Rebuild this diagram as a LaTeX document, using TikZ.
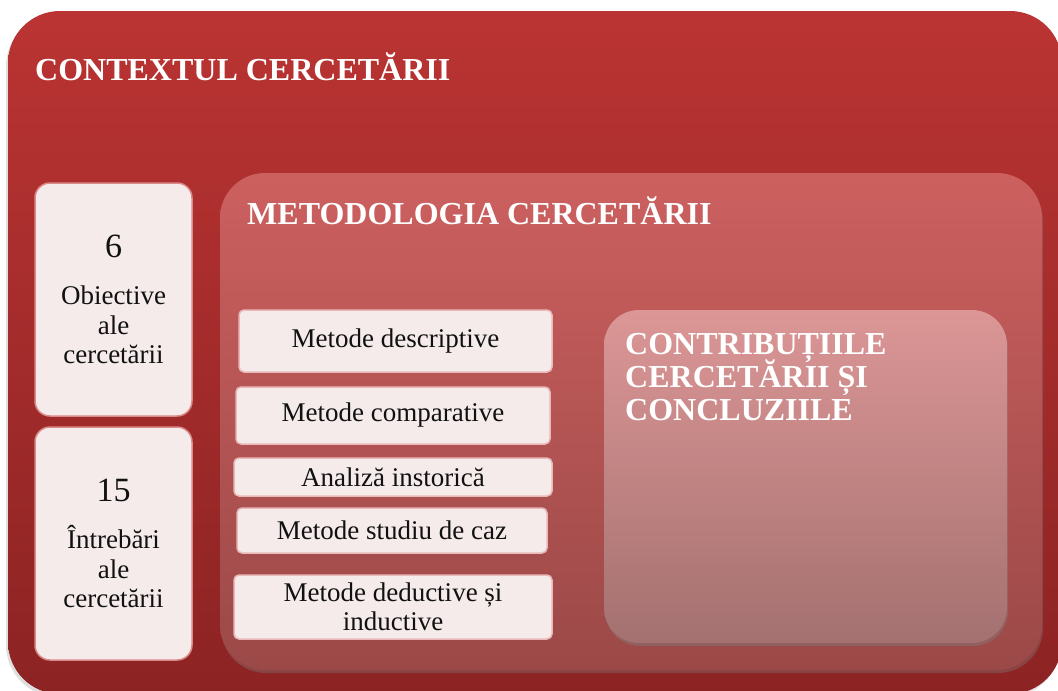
\documentclass[tikz,border=0pt]{standalone}
\usepackage{fontspec}
\setmainfont{Liberation Serif}
\usepackage{xcolor}
\usepackage{tikz}
\usetikzlibrary{shadows}
\definecolor{ctxtop}{HTML}{BA3433}
\definecolor{ctxbot}{HTML}{8C2323}
\definecolor{mettop}{HTML}{CC605F}
\definecolor{metbot}{HTML}{9B4948}
\definecolor{contop}{HTML}{DC9696}
\definecolor{conbot}{HTML}{A47170}
\definecolor{card}{HTML}{F5EBEB}
\definecolor{cardline}{HTML}{D98A89}
\definecolor{ink}{HTML}{111111}
\newcommand{\bignum}[1]{{\fontsize{34}{34}\selectfont #1}}
\newcommand{\titlefont}{\bfseries\fontsize{32}{33}\selectfont\setlength{\lineskiplimit}{-20pt}}
\tikzset{
  title/.style={text=white, inner sep=0pt, font=\titlefont},
  countbox/.style={draw=cardline, line width=1.5pt, fill=card, rounded corners=15pt,
    minimum width=157pt, minimum height=233pt, align=center, text=ink, inner sep=0pt,
    font=\fontsize{27}{29.5}\selectfont},
  methodbox/.style={draw=cardline!60!white, line width=1.5pt, fill=card, rounded corners=5pt,
    align=center, text=ink, inner sep=0pt, font=\fontsize{27}{29}\selectfont},
}

\begin{document}
\begin{tikzpicture}[x=1pt, y=-1pt]
  \useasboundingbox (0,0) rectangle (1058,691);

  % nested panels
  \shade[top color=ctxtop, bottom color=ctxbot, rounded corners=52pt,
    drop shadow={opacity=.25, shadow xshift=-2pt, shadow yshift=-3pt}] (8,11) rectangle (1062,694);
  \shade[top color=mettop, bottom color=metbot, rounded corners=45pt,
    drop shadow={opacity=.35, shadow xshift=1pt, shadow yshift=-3pt}] (220,173) rectangle (1042,670);
  \shade[top color=contop, bottom color=conbot, rounded corners=35pt,
    drop shadow={opacity=.4, shadow xshift=1pt, shadow yshift=-3pt}] (604,310) rectangle (1007,643);

  \node[title, anchor=base west] (context) at (35,80) {CONTEXTUL CERCETĂRII};
  \node[title, anchor=base west] (method) at (247,224) {METODOLOGIA CERCETĂRII};
  \node[title, anchor=north west, align=left] (contrib) at (625,333)
    {CONTRIBUȚIILE\\CERCETĂRII ȘI\\CONCLUZIILE};

  % counts on the left
  \node[countbox] (objectives) at (113.5,299.5) {\bignum{6}\\[18pt]Obiective\\ale\\cercetării};
  \node[countbox] (questions) at (113.5,543.5) {\bignum{15}\\[18pt]Întrebări\\ale\\cercetării};

  % methods
  \node[methodbox, minimum width=313pt, minimum height=62pt] (descriptive) at (395.5,341) {Metode descriptive};
  \node[methodbox, minimum width=314pt, minimum height=57pt] (comparative) at (393,415.5) {Metode comparative};
  \node[methodbox, minimum width=318pt, minimum height=38pt] (historical) at (393,477) {Analiză instorică};
  \node[methodbox, minimum width=310pt, minimum height=45pt] (casestudy) at (392,530.5) {Metode studiu de caz};
  \node[methodbox, minimum width=318pt, minimum height=64pt] (deductive) at (393,607) {Metode deductive și\\inductive};
\end{tikzpicture}
\end{document}
